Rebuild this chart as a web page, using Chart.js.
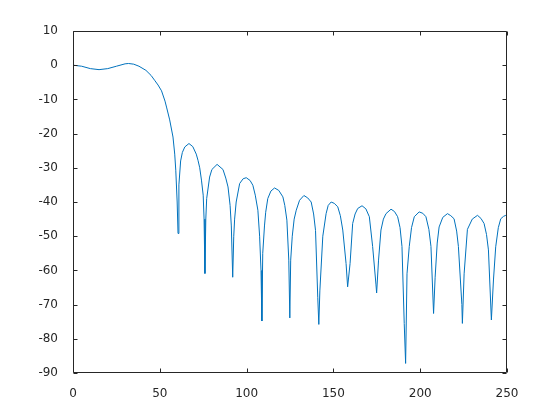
<!DOCTYPE html>
<html>
<head>
<meta charset="utf-8">
<script src="https://cdn.jsdelivr.net/npm/chart.js@4/dist/chart.umd.min.js"></script>
<style>
html,body{margin:0;padding:0;background:#fff;}
#wrap{width:560px;height:420px;}
</style>
</head>
<body>
<div id="wrap"><canvas id="c" width="560" height="420"></canvas></div>
<script>
// Frequency-response samples
const freq = [0,5,10,15,20,25,30,32,35,38,42,45,47,49,51,53,54,55.7,57.6,58.6,59.2,60,60.5,61,62,63,64.4,66.8,69,71,72,73,74,75,75.5,76,76.5,77,78.7,80,83,86.4,88,89.3,90.5,91.2,92,92.6,93.1,94,96,98,99.8,102,103.6,105,106.5,107.5,108.3,108.8,109.3,110.3,111,112.2,114,116.1,118.5,120.9,122,123.2,124.3,124.9,125.4,126.3,127.4,128.6,130.5,133,135.2,137.2,138.6,139.7,141,141.6,142.2,143.9,145.8,147,148.7,150.5,152.5,154,155.4,157.3,158.2,159.6,161.1,162.5,164,166.5,168.7,170.7,172.6,174.5,174.9,176,177.4,178.8,180.3,183.2,185.2,187,188.4,189.5,190.8,191.6,192.4,193.7,195,196.6,199.4,201.5,203.3,205,206.2,207.7,208.6,209.8,210.9,213,215.7,217.6,219.5,221,222,224,224.3,225.3,227.2,230,233,235,236.8,238.2,239.3,241,242.2,243.5,245,246.4,248,249.3,250];
const magnitudeDb = [0,-0.3,-1.0,-1.3,-1.0,-0.3,0.4,0.5,0.3,-0.3,-1.5,-3.0,-4.4,-5.8,-7.5,-10.5,-12.5,-16,-21,-26,-30.7,-40,-49.2,-35,-28,-25.5,-23.9,-22.9,-23.8,-26,-27.8,-30,-33.6,-38,-45,-60.9,-45,-39,-32.7,-30.5,-29,-30.5,-33,-35.6,-41,-47,-62,-50,-45,-40,-34.6,-33.2,-32.9,-33.7,-35.1,-38,-42.4,-50,-60,-74.8,-55,-47,-43,-39,-36.8,-35.9,-36.6,-38.5,-41,-45.3,-57,-73.9,-57,-50,-45,-42.4,-39.5,-38.1,-38.8,-40,-43.5,-48.3,-68,-75.8,-66,-50,-43.4,-41,-40,-40.4,-41.4,-44,-48.2,-58,-64.8,-58,-46.3,-43.5,-41.9,-41.1,-42,-44.3,-53,-64,-66.6,-57,-48.2,-45,-43.4,-42.1,-42.8,-44.3,-47.5,-53,-75.5,-87.2,-61,-53,-47.5,-44.3,-42.9,-43.3,-44.3,-48,-53,-72.6,-62,-52,-47.3,-44.5,-43.4,-44,-44.9,-48.5,-53,-70,-75.5,-61,-48,-45,-43.9,-44.8,-46.3,-49.5,-54,-74.5,-62.8,-53.1,-47.5,-44.9,-44.2,-43.9,-43.8];
const xTicks = [0,50,100,150,200,250];
const yTicks = [-90,-80,-70,-60,-50,-40,-30,-20,-10,0,10];

const points = freq.map((f, i) => ({x: f, y: magnitudeDb[i]}));
const axisColor = '#262626';

const boxPlugin = {
  id: 'boxTicks',
  afterDraw(chart) {
    const {ctx, chartArea: a, scales} = chart;
    const L = Math.round(a.left) + 0.5, R = Math.round(a.right) - 0.5;
    const T = Math.round(a.top) + 0.5, B = Math.round(a.bottom) - 0.5;
    const len = 4;
    ctx.save();
    ctx.strokeStyle = axisColor;
    ctx.lineWidth = 1;
    ctx.beginPath();
    ctx.rect(L, T, R - L, B - T);
    scales.x.ticks.forEach(t => {
      const px = Math.round(scales.x.getPixelForValue(t.value)) + 0.5;
      ctx.moveTo(px, B); ctx.lineTo(px, B - len);
      ctx.moveTo(px, T); ctx.lineTo(px, T + len);
    });
    scales.y.ticks.forEach(t => {
      const py = Math.round(scales.y.getPixelForValue(t.value)) + 0.5;
      ctx.moveTo(L, py); ctx.lineTo(L + len, py);
      ctx.moveTo(R, py); ctx.lineTo(R - len, py);
    });
    ctx.stroke();
    ctx.restore();
  }
};

new Chart(document.getElementById('c'), {
  type: 'scatter',
  data: {
    datasets: [{
      data: points,
      showLine: true,
      borderColor: '#0072BD',
      backgroundColor: '#0072BD',
      borderWidth: 1,
      pointRadius: 0,
      tension: 0
    }]
  },
  options: {
    responsive: false,
    animation: false,
    events: [],
    layout: {padding: {top: 31, right: 53, bottom: 0, left: 0}},
    plugins: {legend: {display: false}, tooltip: {enabled: false}},
    scales: {
      x: {
        type: 'linear',
        min: 0, max: 250,
        afterBuildTicks(s) { s.ticks = xTicks.map(v => ({value: v})); },
        afterFit(s) { s.height = 47; },
        grid: {display: false},
        border: {display: false},
        ticks: {color: axisColor, font: {family: 'DejaVu Sans', size: 12}, padding: 6, maxRotation: 0}
      },
      y: {
        type: 'linear',
        min: -90, max: 10,
        afterBuildTicks(s) { s.ticks = yTicks.map(v => ({value: v})); },
        afterFit(s) { s.width = 73; },
        grid: {display: false},
        border: {display: false},
        ticks: {color: axisColor, font: {family: 'DejaVu Sans', size: 12}, padding: 7}
      }
    }
  },
  plugins: [boxPlugin]
});
</script>
</body>
</html>
